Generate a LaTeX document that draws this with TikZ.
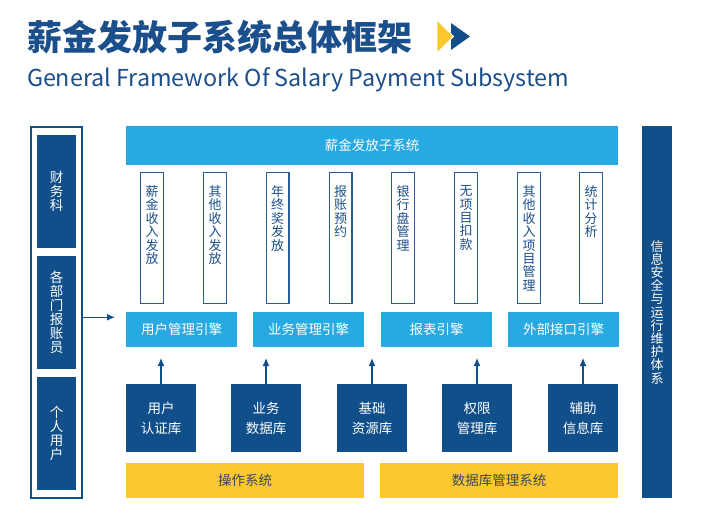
\documentclass[tikz,border=0pt]{standalone}
\usepackage{fontspec}
\newfontfamily\cjk{Noto Sans CJK SC}
\usetikzlibrary{arrows.meta,calc}
\definecolor{dkblue}{HTML}{104F8A}
\definecolor{ltblue}{HTML}{27A9E1}
\definecolor{ylw}{HTML}{FCC82E}
\definecolor{ttl}{HTML}{1B4F8B}
\definecolor{ytext}{HTML}{34495E}
\definecolor{vbord}{HTML}{2A5C9A}
\begin{document}
\begin{tikzpicture}[x=1pt,y=-1pt,font=\cjk,
  every node/.style={inner sep=0pt,outer sep=0pt},
  topbar/.style={fill=ltblue,text=white,anchor=north west,font=\cjk\fontsize{13.5}{16}\selectfont},
  vbox/.style={draw=vbord,line width=1.2pt,fill=white,anchor=north,minimum width=22.8pt,minimum height=130.8pt},
  vtext/.style={anchor=north,align=center,text=ttl,font=\cjk\fontsize{13}{13.4}\selectfont},
  engine/.style={fill=ltblue,text=white,anchor=north west,minimum width=111pt,minimum height=35pt,font=\cjk\fontsize{13.5}{16}\selectfont},
  dbbox/.style={fill=dkblue,text=white,anchor=north west,minimum width=70pt,minimum height=68pt,align=center,font=\cjk\fontsize{13.5}{20}\selectfont},
  osbar/.style={fill=ylw,text=ytext,anchor=north west,minimum height=35pt,font=\cjk\fontsize{13.5}{16}\selectfont},
  leftbox/.style={fill=dkblue,text=white,anchor=north west,minimum width=39pt,minimum height=113pt,align=center,font=\cjk\fontsize{13.5}{14}\selectfont},
  arr/.style={draw=dkblue,line width=1.2pt,-{Latex[length=8pt,width=7pt]}}]
\useasboundingbox (0,0) rectangle (719,519);

% title
\node[anchor=base west,text=ttl,font=\cjk\bfseries\fontsize{35}{40}\selectfont] (title) at (27,50) {薪金发放子系统总体框架};
\node[anchor=base west,text=ttl,font=\cjk\fontsize{23.3}{28}\selectfont] (subtitle) at (27,86.5) {General Framework Of Salary Payment Subsystem};
\fill[dkblue] (451,23) -- (470,36.5) -- (451,50) -- cycle;
\fill[ylw,draw=white,line width=0.8pt] (437,20) -- (453.5,36.5) -- (437,53) -- cycle;

% left column
\node[draw=dkblue,line width=1.5pt,anchor=north west,minimum width=51pt,minimum height=371pt] (outer) at (30.75,126.75) {};
\node[leftbox] (lb1) at (37,135) {财\\务\\科};
\node[leftbox] (lb2) at (37,256) {各\\部\\门\\报\\账\\员};
\node[leftbox] (lb3) at (37,377) {个\\人\\用\\户};

% top bar
\node[topbar,minimum width=492pt,minimum height=39pt] (sys) at (126,126) {薪金发放子系统};

% vertical module boxes
\foreach \i/\x/\t in {1/152/{薪\\金\\收\\入\\发\\放},
                      2/215/{其\\他\\收\\入\\发\\放},
                      3/277.5/{年\\终\\奖\\发\\放},
                      4/340.5/{报\\账\\预\\约},
                      5/403/{银\\行\\盘\\管\\理},
                      6/466/{无\\项\\目\\扣\\款},
                      7/529/{其\\他\\收\\入\\项\\目\\管\\理},
                      8/591/{统\\计\\分\\析}} {
  \node[vbox] (v\i) at (\x,172.6) {};
  \node[vtext] (vt\i) at ($(v\i.north)+(0,13)$) {\t};
}

% engines
\node[engine] (e1) at (126,312) {用户管理引擎};
\node[engine] (e2) at (253,312) {业务管理引擎};
\node[engine] (e3) at (381,312) {报表引擎};
\node[engine] (e4) at (508,312) {外部接口引擎};

% databases
\node[dbbox] (d1) at (126,384) {用户\\认证库};
\node[dbbox] (d2) at (231,384) {业务\\数据库};
\node[dbbox] (d3) at (337,384) {基础\\资源库};
\node[dbbox] (d4) at (442,384) {权限\\管理库};
\node[dbbox] (d5) at (548,384) {辅助\\信息库};

% arrows up
\draw[arr] (d1.north) -- ($(d1.north |- e1.south)+(0,11)$);
\draw[arr] (d2.north) -- ($(d2.north |- e2.south)+(0,11)$);
\draw[arr] (d3.north) -- ($(d3.north |- e2.south)+(0,11)$);
\draw[arr] (d4.north) -- ($(d4.north |- e3.south)+(0,11)$);
\draw[arr] (d5.north) -- ($(d5.north |- e4.south)+(0,11)$);

% left arrow
\draw[arr] ($(outer.east)+(0.75,5)$) -- ($(e1.west |- outer.east)+(-11,5)$);

% OS bars
\node[osbar,minimum width=238pt] (os) at (126,463) {操作系统};
\node[osbar,minimum width=238pt] (dbms) at (380,463) {数据库管理系统};

% right bar
\node[fill=dkblue,anchor=north west,minimum width=30pt,minimum height=372pt] (sec) at (642,126) {};
\node[align=center,text=white,font=\cjk\fontsize{13}{13.2}\selectfont] (sect) at (sec.center) {信\\息\\安\\全\\与\\运\\行\\维\\护\\体\\系};
\end{tikzpicture}
\end{document}
